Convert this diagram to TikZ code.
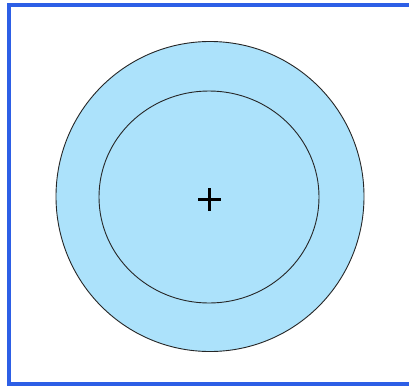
\documentclass[tikz,border=0pt]{standalone}
\definecolor{framebl}{RGB}{45,95,230}
\definecolor{ringfill}{RGB}{172,226,251}
\begin{document}
\begin{tikzpicture}[x=1pt,y=-1pt,
  ring/.style={draw=black!85,line width=0.9pt,fill=ringfill},
  frame/.style={draw=framebl,line width=4pt}]
\useasboundingbox (0,0) rectangle (409,388);
\fill[white] (0,0) rectangle (409,388);
\begin{scope}
\clip (0,0) rectangle (409,388);
\draw[frame] (9,4.5) rectangle (413,384);
\end{scope}
\coordinate (c) at (210,196.5);
\draw[ring] (c) ellipse [x radius=154,y radius=155];
\draw[ring] (209,197) ellipse [x radius=110,y radius=106];
\coordinate (plus) at (209.5,199.5);
\draw[line width=3.6pt,line cap=butt] ([xshift=-11.5pt]plus) -- ([xshift=11.5pt]plus);
\draw[line width=3.6pt,line cap=butt] ([yshift=11.5pt]plus) -- ([yshift=-11.5pt]plus);
\end{tikzpicture}
\end{document}
